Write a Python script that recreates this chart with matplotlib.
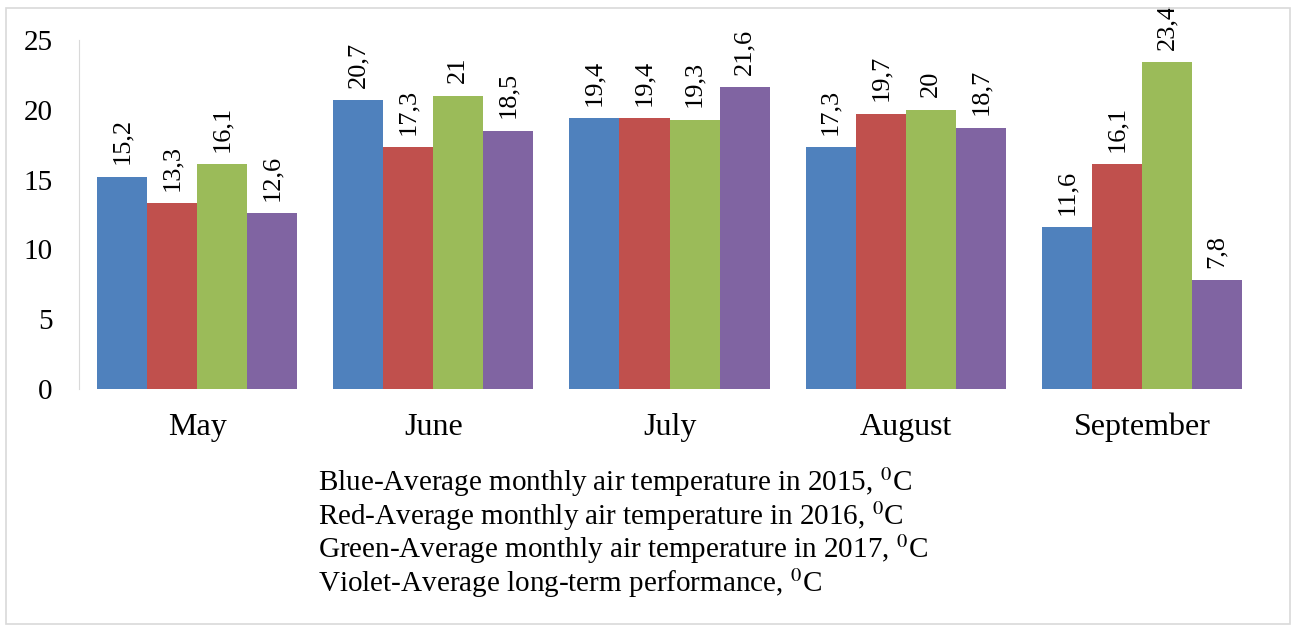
import matplotlib.pyplot as plt
import numpy as np
from matplotlib.patches import Rectangle

months = ["May", "June", "July", "August", "September"]
t2015 = [15.2, 20.7, 19.4, 17.3, 11.6]
t2016 = [13.3, 17.3, 19.4, 19.7, 16.1]
t2017 = [16.1, 21.0, 19.3, 20.0, 23.4]
longterm = [12.6, 18.5, 21.6, 18.7, 7.8]
legend_lines = [
    "Blue-Average monthly air temperature in 2015, $^{0}$C",
    "Red-Average monthly air temperature in 2016, $^{0}$C",
    "Green-Average monthly air temperature in 2017, $^{0}$C",
    "Violet-Average long-term performance, $^{0}$C",
]

plt.rcParams["font.family"] = "Liberation Serif"
plt.rcParams["mathtext.fontset"] = "stix"

fig = plt.figure(figsize=(12.99, 6.32), dpi=100)
ax = fig.add_axes([0.0608, 0.3845, 0.9092, 0.5522])

series = [t2015, t2016, t2017, longterm]
colors = ["#4F81BD", "#C0504D", "#9BBB59", "#8064A2"]
x = np.arange(len(months))
w = 0.212
for i, (vals, c) in enumerate(zip(series, colors)):
    pos = x + (i - 1.5) * w
    bars = ax.bar(pos, vals, width=w, color=c, zorder=2)
    for b, v in zip(bars, vals):
        lbl = ("%g" % v).replace(".", ",")
        ax.annotate(lbl, (b.get_x() + b.get_width() / 2, v),
                    textcoords="offset points", xytext=(0, 9),
                    ha="center", va="bottom", rotation=90, fontsize=19)

ax.set_xlim(-0.5, len(months) - 0.5)
ax.set_ylim(0, 25)
ax.set_yticks([0, 5, 10, 15, 20, 25])
ax.set_xticks(x)
ax.set_xticklabels(months, fontsize=23)
ax.tick_params(axis="y", length=0, labelsize=21, pad=19)
ax.tick_params(axis="x", length=0, pad=17)
for s in ["top", "right", "bottom"]:
    ax.spines[s].set_visible(False)
ax.spines["left"].set_color("#D9D9D9")

y0 = 0.237
for j, line in enumerate(legend_lines):
    fig.text(0.245, y0 - j * 0.053, line, fontsize=21, ha="left", va="center")

fig.patches.append(Rectangle((0.005, 0.012), 0.988, 0.975, transform=fig.transFigure,
                             fill=False, edgecolor="#D9D9D9", linewidth=1.2))

fig.savefig("out.png", dpi=100)
